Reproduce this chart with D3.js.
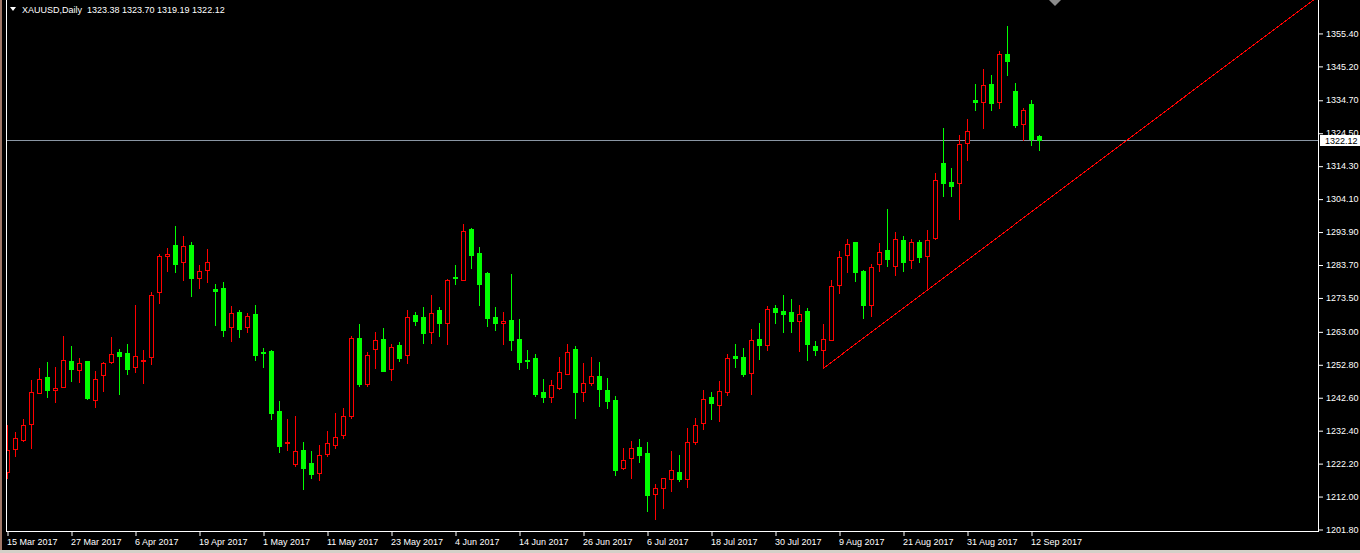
<!DOCTYPE html>
<html><head><meta charset="utf-8">
<script src="https://cdn.jsdelivr.net/npm/d3@7/dist/d3.min.js"></script>
<style>html,body{margin:0;padding:0;background:#000;overflow:hidden}
text{font-family:"Liberation Sans",Arial,sans-serif;font-size:9px;}</style>
</head><body>
<svg id="c" width="1360" height="553"></svg>
<script>
// ---------- data ----------
const symbolTitle = "XAUUSD,Daily";
const lastQuote = [1323.38, 1323.70, 1319.19, 1322.12];
const opens = [1219.4,1226.5,1229.5,1234.4,1244.0,1248.9,1244.9,1245.9,1253.8,1251.1,
1253.8,1241.8,1249.6,1253.6,1256.5,1256.3,1251.9,1253.9,1255.0,1275.1,
1286.2,1289.7,1284.6,1289.7,1279.6,1282.1,1276.1,1276.4,1264.2,1269.0,
1264.2,1268.4,1256.6,1256.9,1238.3,1228.5,1222.0,1226.2,1222.2,1219.0,
1225.1,1227.9,1231.0,1236.9,1260.9,1246.8,1257.4,1260.6,1251.2,1258.8,
1255.6,1268.0,1267.4,1262.9,1269.6,1265.7,1279.8,1279.0,1294.7,1287.3,
1281.1,1267.4,1265.5,1266.5,1260.6,1254.1,1254.7,1244.2,1242.8,1245.4,
1249.9,1257.5,1244.3,1246.9,1249.2,1244.8,1241.7,1220.8,1223.9,1227.2,
1225.3,1212.5,1214.4,1217.2,1219.3,1217.2,1228.8,1234.5,1242.7,1240.3,
1244.3,1255.3,1255.0,1250.2,1260.6,1258.9,1270.2,1269.3,1269.0,1266.3,
1269.3,1258.4,1257.3,1260.4,1277.5,1286.5,1290.7,1281.7,1271.1,1283.9,
1288.2,1283.3,1291.3,1285.0,1290.7,1286.2,1291.8,1315.1,1309.2,1308.8,
1321.4,1334.6,1334.1,1339.6,1334.1,1348.9,1337.4,1327.3,1333.4,1323.38];
const highs = [1234.0,1231.8,1235.9,1247.9,1251.6,1253.5,1252.0,1261.6,1258.5,1254.7,
1253.8,1250.7,1253.6,1261.2,1257.4,1259.0,1271.2,1257.2,1275.1,1286.9,
1288.8,1295.6,1292.5,1290.7,1283.4,1288.5,1277.7,1278.3,1270.8,1269.6,
1268.6,1271.1,1257.8,1257.2,1241.4,1235.8,1236.8,1228.7,1225.9,1227.8,
1232.1,1237.7,1239.3,1261.5,1265.3,1256.6,1262.8,1264.0,1259.0,1259.6,
1269.6,1268.9,1270.5,1274.2,1270.4,1279.1,1283.5,1296.2,1294.9,1289.1,
1281.4,1270.5,1269.0,1280.7,1266.8,1257.2,1256.0,1248.2,1247.9,1255.1,
1259.1,1258.5,1253.2,1255.1,1253.5,1248.5,1243.0,1226.9,1229.0,1229.7,
1228.7,1215.7,1217.7,1225.9,1224.7,1233.1,1236.1,1244.8,1244.1,1247.6,
1256.0,1259.1,1257.8,1263.7,1265.6,1271.0,1271.1,1274.2,1273.0,1271.1,
1270.2,1260.0,1265.3,1278.9,1287.9,1291.5,1290.8,1282.0,1283.7,1290.3,
1300.9,1293.7,1292.5,1291.6,1291.3,1294.4,1311.9,1326.0,1313.6,1323.8,
1328.7,1339.6,1344.2,1342.4,1349.8,1357.5,1339.9,1332.2,1334.6,1323.70];
const lows = [1217.5,1224.5,1229.2,1227.0,1243.8,1242.8,1241.2,1245.7,1247.6,1247.3,
1242.1,1239.6,1244.6,1253.3,1243.7,1249.9,1250.5,1247.1,1253.0,1271.9,
1281.7,1281.5,1278.9,1273.9,1276.4,1278.3,1265.1,1261.7,1260.1,1261.3,
1262.9,1254.1,1252.0,1235.9,1225.7,1226.2,1221.4,1214.2,1217.7,1217.0,
1224.5,1227.0,1230.1,1236.3,1246.1,1246.1,1251.6,1250.7,1247.9,1253.9,
1253.3,1264.9,1259.5,1259.5,1261.6,1259.2,1277.7,1278.9,1282.7,1271.3,
1264.7,1263.4,1259.2,1257.3,1251.4,1251.7,1243.1,1241.2,1241.2,1245.3,
1249.8,1236.3,1241.5,1246.3,1240.0,1239.4,1218.6,1220.5,1217.7,1222.6,
1207.5,1205.0,1208.4,1213.6,1216.7,1214.9,1228.2,1232.8,1235.8,1235.2,
1243.4,1251.9,1249.2,1243.6,1254.4,1257.2,1265.6,1262.8,1262.8,1256.9,
1254.1,1255.7,1251.6,1260.3,1274.8,1281.3,1278.7,1267.2,1267.8,1281.8,
1283.3,1280.5,1281.8,1282.7,1284.6,1275.8,1291.7,1305.0,1305.0,1297.9,
1316.2,1331.5,1326.1,1331.5,1332.2,1342.4,1326.3,1322.3,1320.7,1319.19];
const closes = [1226.3,1229.9,1233.9,1244.1,1248.4,1244.8,1245.5,1254.0,1251.3,1253.1,
1242.3,1248.1,1253.1,1255.9,1255.5,1251.4,1255.3,1254.0,1274.2,1286.3,
1286.9,1284.0,1289.3,1279.6,1281.6,1284.4,1275.6,1263.5,1268.6,1263.8,
1267.9,1255.8,1256.4,1237.8,1227.6,1228.7,1225.8,1220.8,1218.9,1224.7,
1228.3,1230.3,1236.7,1260.8,1246.8,1255.7,1260.2,1250.8,1258.3,1254.8,
1267.3,1266.3,1262.6,1268.6,1265.7,1278.8,1279.4,1294.0,1286.7,1277.8,
1267.2,1265.7,1266.2,1260.4,1253.6,1253.9,1243.7,1242.8,1246.3,1250.3,
1256.6,1244.3,1246.9,1249.1,1245.2,1241.5,1220.2,1223.2,1226.8,1224.7,
1212.4,1214.4,1217.5,1220.2,1217.3,1228.6,1233.9,1242.2,1240.8,1244.4,
1254.7,1254.8,1249.8,1260.3,1258.8,1269.8,1269.0,1268.4,1266.2,1268.4,
1259.1,1257.2,1260.6,1277.0,1286.0,1290.0,1281.5,1271.1,1282.9,1287.6,
1285.4,1291.6,1284.6,1290.7,1286.1,1291.3,1309.8,1309.0,1308.1,1321.0,
1325.0,1334.1,1339.3,1333.7,1348.9,1346.7,1326.9,1331.5,1322.6,1322.12];
const dateLabels = ["15 Mar 2017","27 Mar 2017","6 Apr 2017","19 Apr 2017","1 May 2017",
"11 May 2017","23 May 2017","4 Jun 2017","14 Jun 2017","26 Jun 2017","6 Jul 2017",
"18 Jul 2017","30 Jul 2017","9 Aug 2017","21 Aug 2017","31 Aug 2017","12 Sep 2017"];
const barsPerLabel = 8;
const priceTicks = [1355.40,1345.20,1334.70,1324.50,1314.30,1304.10,1293.90,1283.70,
1273.50,1263.00,1252.80,1242.60,1232.40,1222.20,1212.00,1201.80];
const bidPrice = 1322.12;
const trendAnchors = [[102, 1251.6], [115, 1275.8]];

// ---------- layout ----------
const W = 1360, H = 553;
const plotL = 6, plotR = 1318, plotB = 531;
const svg = d3.select("#c");
const n = opens.length;
const x = d3.scaleLinear().domain([0, n - 1]).range([7.5, 7.5 + 8 * (n - 1)]);
const y = d3.scaleLinear().domain([1365.6, 1201.8]).range([0, 529]);

svg.append("rect").attr("width", W).attr("height", H).attr("fill", "#000");

// window edges
svg.append("rect").attr("x", 0).attr("y", 0).attr("width", 2).attr("height", H).attr("fill", "#a07868");
svg.append("rect").attr("x", 0).attr("y", 550).attr("width", W).attr("height", 3).attr("fill", "#d4d0c8");

svg.append("defs").append("clipPath").attr("id", "pc")
  .append("rect").attr("x", plotL + 1).attr("y", 0).attr("width", plotR - plotL - 1).attr("height", plotB);

const plot = svg.append("g").attr("clip-path", "url(#pc)");

// bid line
plot.append("line").attr("x1", plotL).attr("x2", plotR)
  .attr("y1", Math.round(y(bidPrice)) + 0.5).attr("y2", Math.round(y(bidPrice)) + 0.5)
  .attr("stroke", "#8a96a4").attr("stroke-width", 1);

// candles
const data = d3.range(n).map(i => ({i, o: opens[i], h: highs[i], l: lows[i], c: closes[i]}));
const g = plot.append("g").attr("shape-rendering", "crispEdges");
data.forEach(d => {
  const cx = x(d.i);
  const up = d.c >= d.o;
  const col = up ? "#ff0000" : "#00ff00";
  const yh = Math.round(y(d.h)), yl = Math.round(y(d.l));
  const yt = Math.round(y(Math.max(d.o, d.c))), yb = Math.round(y(Math.min(d.o, d.c)));
  g.append("line").attr("x1", cx).attr("x2", cx).attr("y1", yh).attr("y2", yl + 1)
    .attr("stroke", col).attr("stroke-width", 1);
  if (yb - yt < 1) {
    g.append("rect").attr("x", cx - 2.5).attr("y", yt).attr("width", 5).attr("height", 1).attr("fill", col);
  } else if (up) {
    g.append("rect").attr("x", cx - 2).attr("y", yt + 0.5).attr("width", 4).attr("height", yb - yt)
      .attr("fill", "#000").attr("stroke", col).attr("stroke-width", 1);
  } else {
    g.append("rect").attr("x", cx - 2.5).attr("y", yt).attr("width", 5).attr("height", yb - yt + 1).attr("fill", col);
  }
});

// trend line (ray)
const [a1, a2] = trendAnchors;
const slope = (y(a2[1]) - y(a1[1])) / (x(a2[0]) - x(a1[0]));
const xEnd = plotR;
plot.append("line")
  .attr("x1", x(a1[0])).attr("y1", y(a1[1]))
  .attr("x2", xEnd).attr("y2", y(a1[1]) + slope * (xEnd - x(a1[0])))
  .attr("stroke", "#ff0000").attr("stroke-width", 1).attr("shape-rendering", "crispEdges");

// borders
svg.append("line").attr("x1", plotL + 0.5).attr("x2", plotL + 0.5).attr("y1", 0).attr("y2", plotB + 0.5)
  .attr("stroke", "#fff");
svg.append("line").attr("x1", plotR + 0.5).attr("x2", plotR + 0.5).attr("y1", 0).attr("y2", plotB + 0.5)
  .attr("stroke", "#fff");
svg.append("line").attr("x1", plotL).attr("x2", plotR + 1).attr("y1", plotB + 0.5).attr("y2", plotB + 0.5)
  .attr("stroke", "#fff");

// right price axis
const yAxis = d3.axisRight(y).tickValues(priceTicks).tickSize(4).tickPadding(3)
  .tickFormat(d3.format(".2f"));
const ya = svg.append("g").attr("transform", `translate(${plotR + 1},0)`).call(yAxis);
ya.select(".domain").remove();
ya.selectAll(".tick line").attr("stroke", "#fff").attr("transform", "translate(0,0.5)");
ya.selectAll(".tick text").attr("fill", "#fff").style("font-family", '"Liberation Sans",Arial,sans-serif')
  .style("font-size", "9px").attr("dy", "0.35em");

// bid price box
const by = Math.round(y(bidPrice));
svg.append("rect").attr("x", plotR + 2).attr("y", by - 5).attr("width", W - plotR - 2).attr("height", 11).attr("fill", "#fff");
svg.append("text").attr("x", plotR + 7).attr("y", by + 4).attr("fill", "#000").text(d3.format(".2f")(bidPrice));

// bottom date axis
const xAxis = d3.axisBottom(x).tickValues(d3.range(0, n, barsPerLabel)).tickSize(4)
  .tickFormat(i => dateLabels[i / barsPerLabel]);
const xa = svg.append("g").attr("transform", `translate(0,${plotB + 1})`).call(xAxis);
xa.select(".domain").remove();
xa.selectAll(".tick line").attr("stroke", "#fff");
xa.selectAll(".tick text").attr("fill", "#fff").attr("text-anchor", "start").attr("x", -1).attr("y", 7)
  .attr("dy", "0.71em").style("font-family", '"Liberation Sans",Arial,sans-serif').style("font-size", "9px");

// header
svg.append("path").attr("d", "M10,7 L16,7 L13,11 Z").attr("fill", "#fff");
svg.append("text").attr("x", 22).attr("y", 13).attr("fill", "#fff")
  .text(symbolTitle + "  " + lastQuote.map(d3.format(".2f")).join(" "))
  .attr("xml:space", "preserve").style("white-space", "pre");

// chart shift marker
svg.append("path").attr("d", "M1049,0 L1061,0 L1055,6 Z").attr("fill", "#8c8c8c");
</script>
</body></html>
